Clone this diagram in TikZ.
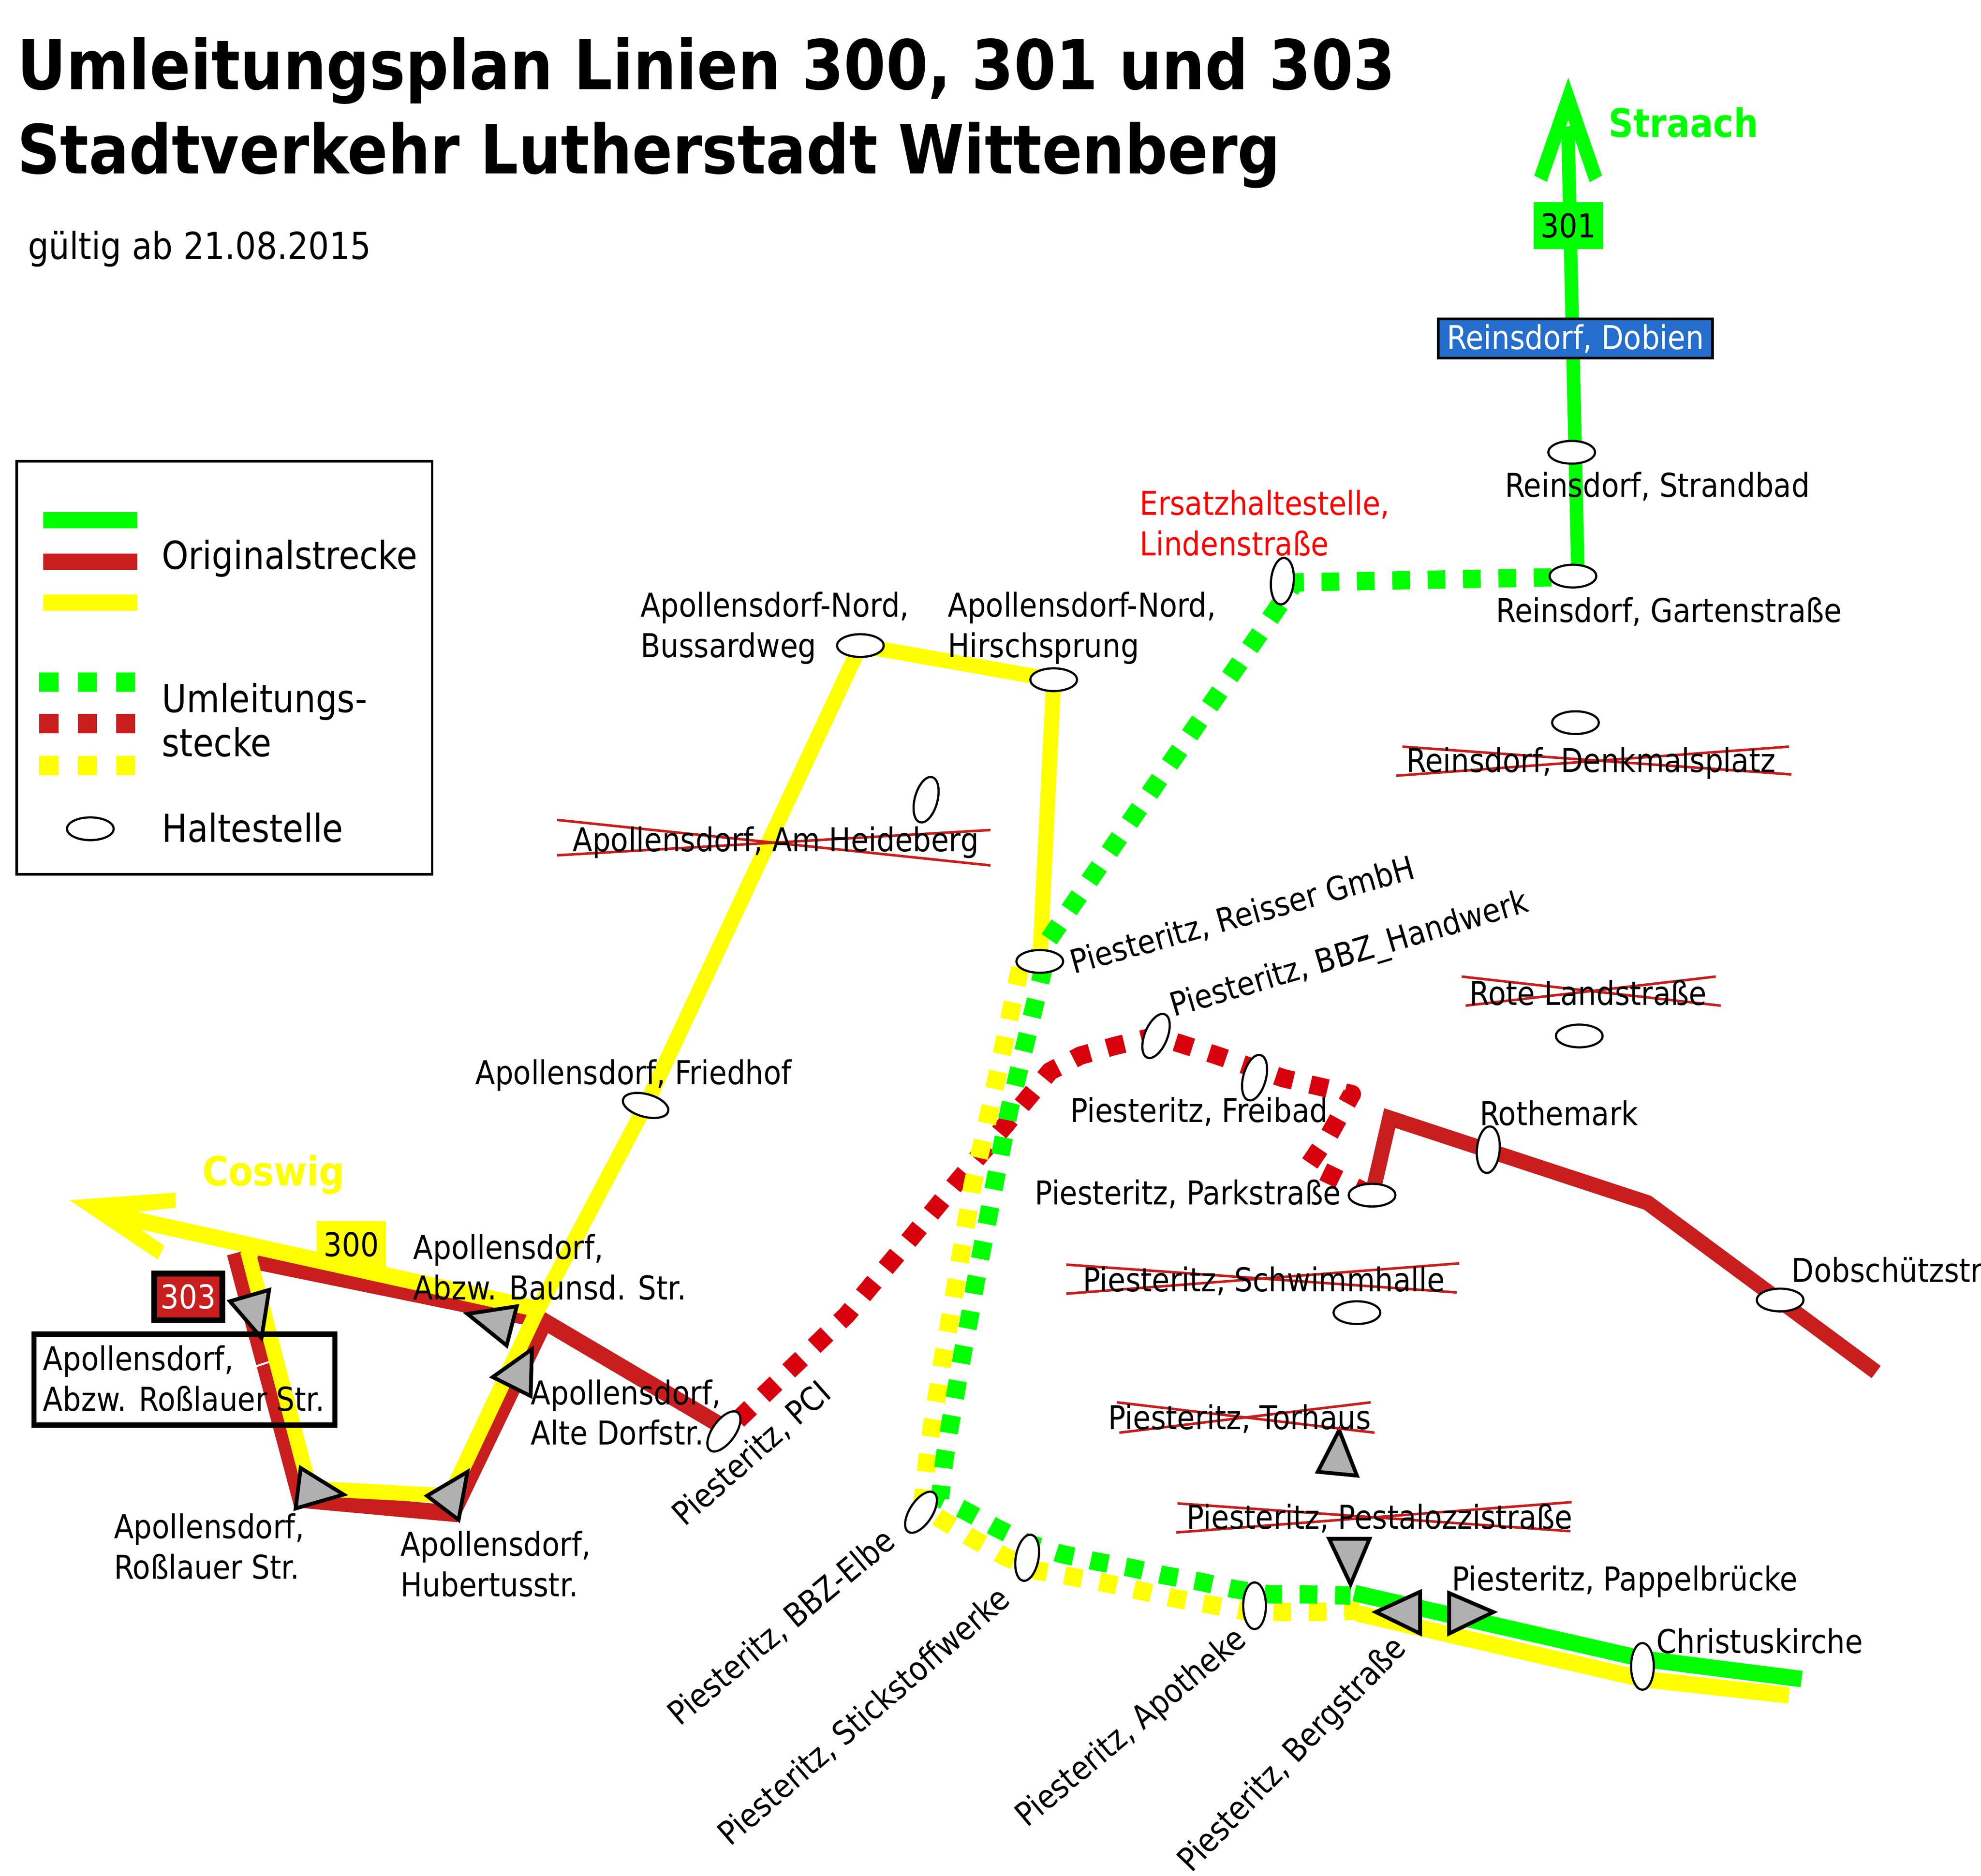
\documentclass[tikz,border=0pt]{standalone}
\usepackage{fontspec}
\usetikzlibrary{shapes.geometric}
\setmainfont{DejaVu Sans}[FakeStretch=0.88]
\definecolor{gr}{RGB}{0,255,0}
\definecolor{ye}{RGB}{255,255,0}
\definecolor{rd}{RGB}{200,30,30}
\definecolor{rdd}{RGB}{215,0,12}
\definecolor{bl}{RGB}{38,110,205}
\definecolor{tri}{RGB}{176,176,176}
\tikzset{
 lbl/.style={font=\fontsize{26}{32}\selectfont,anchor=west,align=left,inner sep=0pt,text=black},
 biglbl/.style={font=\fontsize{30.5}{35}\selectfont,anchor=west,align=left,inner sep=0pt,text=black},
 rlbl/.style={font=\fontsize{26}{32}\selectfont,anchor=base west,inner sep=0pt,text=black,rotate=#1},
 ttl/.style={font=\fontsize{54.3}{54}\bfseries\selectfont,anchor=west,inner sep=0pt},
 stop/.style={draw=black,fill=white,line width=1.7pt,ellipse,minimum width=37pt,minimum height=18pt,inner sep=0pt,rotate=#1},
 stop/.default=0,
 solidln/.style={line width=#1,line join=miter,line cap=butt},
 dotln/.style={line width=14.5pt,line cap=butt,line join=round,dash pattern=on 14pt off 14pt},
 legdot/.style={line width=15.3pt,dash pattern=on 15.3pt off 15.3pt},
 crossln/.style={draw=rd,line width=2pt},
 arrowtri/.style={draw=black,fill=tri,line width=3pt,line join=miter},
 badge/.style={font=\fontsize{26}{30}\selectfont,inner sep=0pt,minimum width=55pt,minimum height=37pt},
}
\begin{document}
\begin{tikzpicture}[x=1pt,y=-1pt]
\useasboundingbox (0,0) rectangle (1568,1484.6);
% stops as coordinates
\coordinate (strand) at (1244,358);
\coordinate (gart) at (1245,456);
\coordinate (lind) at (1015,460);
\coordinate (buss) at (681,511);
\coordinate (hirsch) at (834,538);
\coordinate (reiss) at (823,761);
\coordinate (fried) at (511,875);
\coordinate (pci) at (573,1133);
\coordinate (bbzh) at (915,820);
\coordinate (frei) at (993,853);
\coordinate (park) at (1086,946);
\coordinate (roth) at (1178,910);
\coordinate (dob) at (1409,1029);
\coordinate (chr) at (1300,1319);
\coordinate (apo) at (993,1271);
\coordinate (stick) at (813,1233);
\coordinate (bbze) at (729,1197);
% title
\node[ttl] (t1) at (13.5,56) {Umleitungsplan Linien 300, 301 und 303};
\node[ttl,font=\fontsize{53.7}{54}\bfseries\selectfont] (t2) at (13.5,123) {Stadtverkehr Lutherstadt Wittenberg};
\node[biglbl,font=\fontsize{29.5}{35}\selectfont] (t3) at (22,197) {gültig ab 21.08.2015};
% legend
\node[draw=black,line width=2pt,minimum width=329pt,minimum height=327pt,inner sep=0pt] (legend) at (177.6,528.5) {};
\draw[gr,solidln=12.8pt] (34.3,411.8) -- (108.7,411.8);
\draw[rd,solidln=12.8pt] (34.3,444.5) -- (108.7,444.5);
\draw[ye,solidln=12.8pt] (34.3,477) -- (108.7,477);
\draw[gr,legdot] (30.9,540) -- (107,540);
\draw[rd,legdot] (30.9,572.9) -- (107,572.9);
\draw[ye,legdot] (30.9,605.8) -- (107,605.8);
\node[biglbl] (l1) at (128,442) {Originalstrecke};
\node[biglbl] (l2) at (128,570) {Umleitungs-\\stecke};
\node[biglbl] (l3) at (128,655) {Haltestelle};
\node[stop] (l4) at (71.5,656) {};
% green 301
\draw[gr,line width=10.7pt] (1241,100) -- (1249,456);
\fill[gr] (1241.3,61.6) -- (1268,139) -- (1258.2,144.2) -- (1241.3,95) -- (1224.3,144) -- (1214.4,139) -- cycle;
\node[badge,fill=gr] (b301) at (1241.3,178.5) {301};
\node[draw=black,line width=2.2pt,fill=bl,text=white,font=\fontsize{26}{30}\selectfont,minimum width=217pt,minimum height=31pt,inner sep=0pt] (dob2) at (1247,268) {Reinsdorf, Dobien};
% red lines
\draw[rd,solidln=13pt] (186,992) -- (238,1187) -- (358,1198) -- (431,1046) -- (570,1128);
\draw[rd,solidln=12pt] (203,999) -- (432,1046);
\draw[white,line width=1.5pt] (201,1082) -- (213,1078);
\draw[rd,solidln=12pt] (park) -- (1100,885) -- (1304,952) -- (1485,1086);
% yellow lines
\fill[ye] (55,950) -- (139,944) -- (139,956) -- (110,959) -- (111,973) -- (130,986) -- (125,997) -- cycle;
\draw[ye,solidln=13pt] (95,963) -- (430,1037);
\draw[ye,solidln=12pt] (196,990) -- (245,1178) -- (356,1184) -- (424,1040) -- (fried) -- (buss) -- (hirsch) -- (reiss);
% red dotted
\draw[rdd,dotln] (584,1124) -- (670,1041) -- (723,977.5) -- (759,933.8) -- (795,891.5) -- (831,848) -- (855,835.6) -- (882,828) -- (bbzh) -- (934,826) -- (962,835) -- (1015.6,853.4) -- (1070,866) -- (1052,898.4) -- (1036,922) -- (park);
% yellow dotted
\draw[ye,dotln] (807.5,766) -- (783,881) -- (770,937) -- (751.6,1046) -- (746.5,1074) -- (737.7,1129) -- (733.7,1157) -- (730,1192) -- (745.6,1203) -- (770,1218) -- (795,1232) -- (820,1243) -- (848,1248) -- (875,1253) -- (902,1259) -- (929,1265) -- (957,1270) -- (984,1275) -- (1012,1276) -- (1040,1276) -- (1076,1275);
% green dotted
\draw[gr,dotln] (1228,457) -- (1025,461) -- (821,757);
\draw[gr,dotln] (826.5,764) -- (799,878) -- (788,933) -- (772,1016) -- (767.4,1043) -- (762,1071) -- (752.3,1126) -- (747.7,1154) -- (744,1186) -- (764.3,1196) -- (788,1209) -- (812,1221) -- (840,1230) -- (868,1236) -- (895,1241) -- (922,1247) -- (950,1252) -- (978,1258) -- (1005,1262) -- (1034,1262) -- (1069,1263);
% solid east
\draw[ye,solidln=13pt] (1074,1277) -- (chr |- 0,1329) -- (1416,1342);
\draw[gr,solidln=13pt] (1072,1261) -- (chr |- 0,1313) -- (1426,1329);
% stops
\node[stop] (sStrand) at (strand) {};
\node[stop] (sGart) at (gart) {};
\node[stop=85] (sLind) at (lind) {};
\node[stop] (sBuss) at (buss) {};
\node[stop] (sHirsch) at (hirsch) {};
\node[stop] (sReiss) at (reiss) {};
\node[stop=-15] (sFried) at (fried) {};
\node[stop=54] (sPci) at (pci) {};
\node[stop=68] (sBbzh) at (bbzh) {};
\node[stop=75] (sFrei) at (frei) {};
\node[stop] (sPark) at (park) {};
\node[stop=85] (sRoth) at (roth) {};
\node[stop] (sDob) at (dob) {};
\node[stop=90] (sChr) at (chr) {};
\node[stop=90] (sApo) at (apo) {};
\node[stop=80] (sStick) at (stick) {};
\node[stop=57] (sBbze) at (bbze) {};
\node[stop] (sDenk) at (1247,572) {};
\node[stop] (sRote) at (1250,820) {};
\node[stop] (sSchw) at (1074,1039) {};
\node[stop=75] (sHeid) at (733,633) {};
% triangles
\draw[arrowtri] (182,1030) -- (213,1021) -- (207,1059) -- cycle;
\draw[arrowtri] (370,1040) -- (409,1034) -- (401,1065) -- cycle;
\draw[arrowtri] (421,1068) -- (390,1090) -- (420,1105) -- cycle;
\draw[arrowtri] (238,1162) -- (272,1183) -- (234,1194) -- cycle;
\draw[arrowtri] (370,1165) -- (338,1184) -- (363,1203) -- cycle;
\draw[arrowtri] (1060,1132) -- (1043,1165) -- (1074,1168) -- cycle;
\draw[arrowtri] (1052,1218) -- (1084,1218) -- (1069,1254) -- cycle;
\draw[arrowtri] (1124,1260) -- (1089,1276) -- (1124,1293) -- cycle;
\draw[arrowtri] (1147,1261) -- (1182,1276) -- (1147,1293) -- cycle;
% badges
\node[badge,fill=ye] (b300) at (278,985) {300};
\node[badge,fill=rd,draw=black,line width=4.5pt,text=white,minimum width=54pt,minimum height=37pt] (b303) at (149,1026.5) {303};
\node[draw=black,line width=4pt,minimum width=238pt,minimum height=72pt,inner sep=0pt] (boxR) at (146,1092) {};
% crosses
\draw[crossln] (441,649) -- (784,685) (784,657) -- (441,677);
\draw[crossln] (1110,591) -- (1418,613) (1416,591) -- (1105,614);
\draw[crossln] (1157,773) -- (1362,796) (1358,773) -- (1160,796);
\draw[crossln] (844,1001) -- (1153,1023) (1155,1000) -- (844,1024);
\draw[crossln] (884,1110) -- (1088,1134) (1085,1110) -- (886,1134);
\draw[crossln] (932,1190) -- (1243,1212) (1244,1189) -- (931,1213);
% labels
\node[font=\fontsize{31}{34}\bfseries\selectfont,text=gr,anchor=west,inner sep=0pt] (strach) at (1273,97) {Straach};
\node[font=\fontsize{32}{34}\bfseries\selectfont,text=ye,anchor=west,inner sep=0pt] (cos) at (160,930) {Coswig};
\node[lbl] (n1) at (1191,385) {Reinsdorf, Strandbad};
\node[lbl] (n2) at (1184,484) {Reinsdorf, Gartenstraße};
\node[lbl,text=red] (n3) at (902,414) {Ersatzhaltestelle,\\Lindenstraße};
\node[lbl] (n4) at (507,497) {Apollensdorf-Nord,\\Bussardweg};
\node[lbl] (n5) at (750,497) {Apollensdorf-Nord,\\Hirschsprung};
\node[lbl] (n6) at (1113,604) {Reinsdorf, Denkmalsplatz};
\node[lbl] (n7) at (453,667) {Apollensdorf, Am Heideberg};
\node[lbl] (n8) at (1163,786) {Rote Landstraße};
\node[lbl] (n9) at (376,851) {Apollensdorf, Friedhof};
\node[lbl] (n10) at (847,880) {Piesteritz, Freibad};
\node[lbl] (n11) at (1171,881) {Rothemark};
\node[lbl] (n12) at (819,945) {Piesteritz, Parkstraße};
\node[lbl] (n13) at (1418,1005) {Dobschützstr};
\node[lbl] (n14) at (857,1014) {Piesteritz, Schwimmhalle};
\node[lbl] (n15) at (327,1003) {Apollensdorf,\\Abzw. Baunsd. Str.};
\node[lbl] (n16) at (34,1091) {Apollensdorf,\\Abzw. Roßlauer Str.};
\node[lbl] (n17) at (420,1118) {Apollensdorf,\\Alte Dorfstr.};
\node[lbl] (n18) at (90,1224) {Apollensdorf,\\Roßlauer Str.};
\node[lbl] (n19) at (317,1238) {Apollensdorf,\\Hubertusstr.};
\node[lbl] (n20) at (877,1123) {Piesteritz, Torhaus};
\node[lbl] (n21) at (939,1202) {Piesteritz, Pestalozzistraße};
\node[lbl] (n22) at (1149,1252) {Piesteritz, Pappelbrücke};
\node[lbl] (n23) at (1311,1299) {Christuskirche};
\node[rlbl=15.6] (r1) at (850,771) {Piesteritz, Reisser GmbH};
\node[rlbl=16.5] (r2) at (929,805) {Piesteritz, BBZ\_Handwerk};
\node[rlbl=41.5] (r3) at (542,1209) {Piesteritz, PCI};
\node[rlbl=40] (r4) at (538,1367) {Piesteritz, BBZ-Elbe};
\node[rlbl=41] (r5) at (578,1462) {Piesteritz, Stickstoffwerke};
\node[rlbl=40] (r6) at (813,1447) {Piesteritz, Apotheke};
\node[rlbl=46] (r7) at (943,1483) {Piesteritz, Bergstraße};
\end{tikzpicture}
\end{document}
